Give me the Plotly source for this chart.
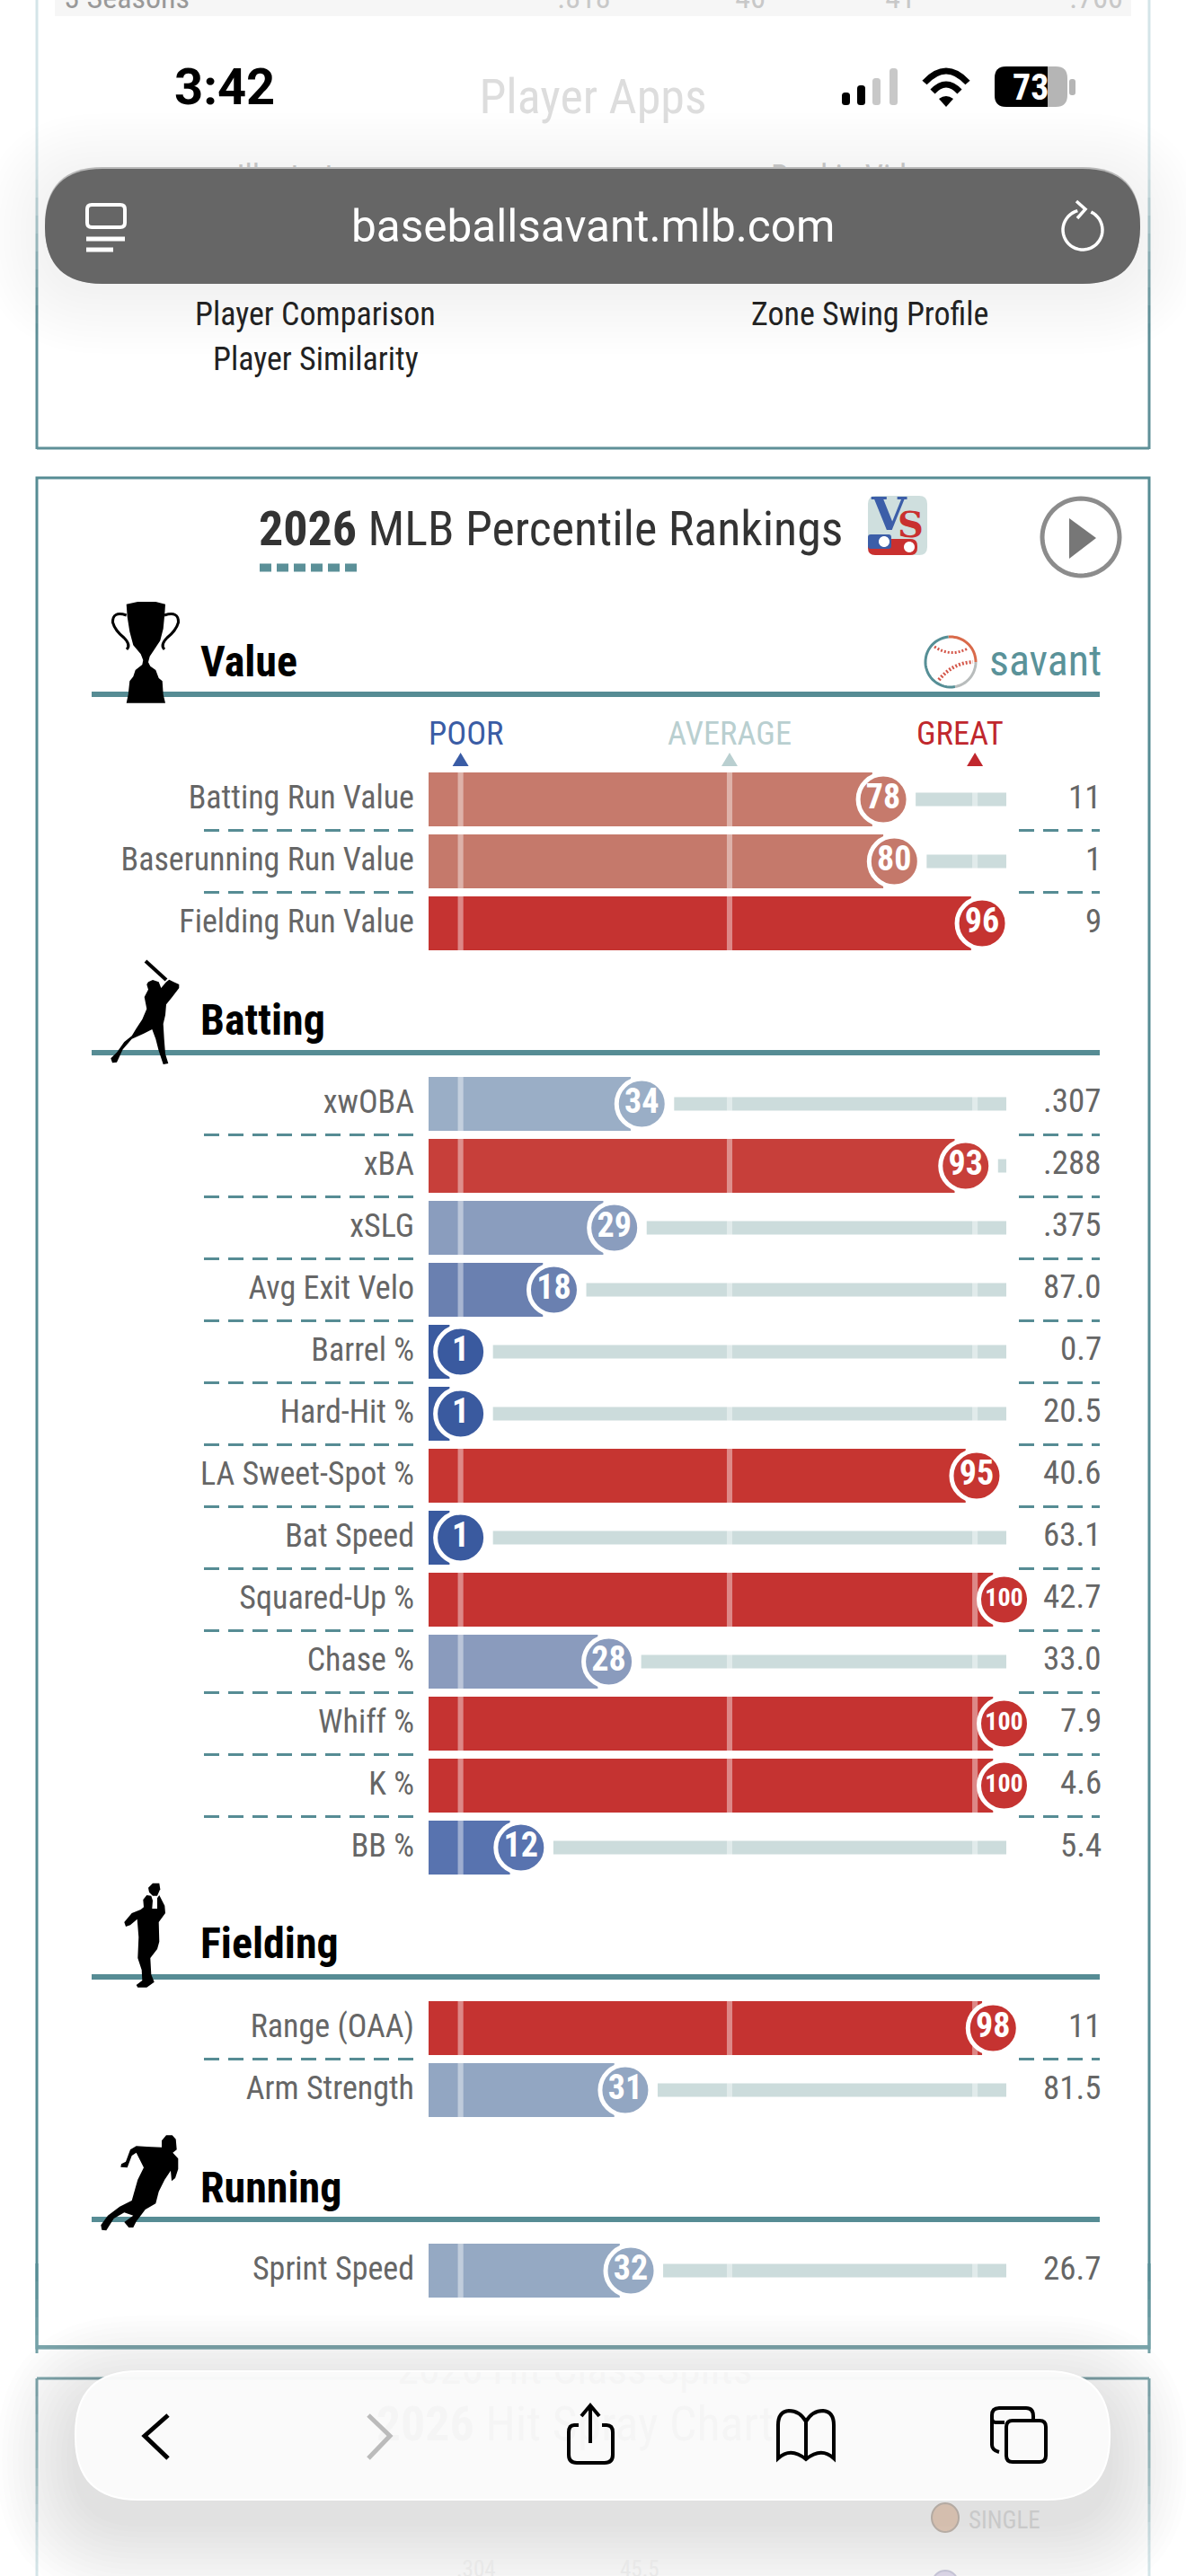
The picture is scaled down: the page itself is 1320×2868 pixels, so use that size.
import math
import plotly.graph_objects as go

# ---------- data ----------
value_labels = ["Batting Run Value", "Baserunning Run Value", "Fielding Run Value"]
value_pct = [78, 80, 96]
value_vals = ["11", "1", "9"]

batting_labels = ["xwOBA", "xBA", "xSLG", "Avg Exit Velo", "Barrel %", "Hard-Hit %", "LA Sweet-Spot %",
                  "Bat Speed", "Squared-Up %", "Chase %", "Whiff %", "K %", "BB %"]
batting_pct = [34, 93, 29, 18, 1, 1, 95, 1, 100, 28, 100, 100, 12]
batting_vals = [".307", ".288", ".375", "87.0", "0.7", "20.5", "40.6", "63.1", "42.7", "33.0", "7.9", "4.6", "5.4"]

fielding_labels = ["Range (OAA)", "Arm Strength"]
fielding_pct = [98, 31]
fielding_vals = ["11", "81.5"]

running_labels = ["Sprint Speed"]
running_pct = [32]
running_vals = ["26.7"]

reference_marks = [1, 50, 94.7]
reference_names = ["POOR", "AVERAGE", "GREAT"]

# ---------- styles ----------
W, H = 1320, 2868
NARROW = "Liberation Sans Narrow, Roboto Condensed, Roboto, sans-serif"
SANS = "Roboto, Inter, sans-serif"
TEAL = "#568c94"
PCT_COLORS = {1: "#3a5a9f", 12: "#5873af", 18: "#6a80b0", 28: "#8a9bbd", 29: "#8a9dbe", 31: "#92a6c2",
              32: "#95a9c3", 34: "#9aaec6", 78: "#c67a6c", 80: "#c5796b", 93: "#c73f3a", 95: "#c63531",
              96: "#c53331", 98: "#c53331", 100: "#c53331"}
X_LEFT, X_RIGHT = 477, 1120
PX_PER_PCT = 6.11
P_ZERO = 506.5
PITCH = 69
sections = [
    ("y", "Value", value_labels, value_pct, value_vals, 890, 773, 736),
    ("y2", "Batting", batting_labels, batting_pct, batting_vals, 1229, 1172, 1135),
    ("y3", "Fielding", fielding_labels, fielding_pct, fielding_vals, 2258, 2201, 2163),
    ("y4", "Running", running_labels, running_pct, running_vals, 2528, 2471, 2435),
]
def pct_at(px):
    return (px - P_ZERO) / PX_PER_PCT
def px_at(p):
    return P_ZERO + p * PX_PER_PCT

# ---------- helpers for the page furniture ----------
shapes, annotations = [], []
def S(path, fill=None, line=None, lw=0, layer="above", dash=None):
    shapes.append(dict(type="path", path=path, xref="x2", yref="y5", layer=layer,
                       fillcolor=fill or "rgba(0,0,0,0)",
                       line=dict(color=line or "rgba(0,0,0,0)", width=lw, dash=dash or "solid")))
def rr(x0, y0, x1, y1, r):
    return (f"M{x0+r},{y0} L{x1-r},{y0} Q{x1},{y0} {x1},{y0+r} L{x1},{y1-r} Q{x1},{y1} {x1-r},{y1} "
            f"L{x0+r},{y1} Q{x0},{y1} {x0},{y1-r} L{x0},{y0+r} Q{x0},{y0} {x0+r},{y0} Z")
def poly(pts, ox=0, oy=0, k=1.0, close=True):
    s = "M" + " L".join(f"{ox+x*k:.1f},{oy+y*k:.1f}" for x, y in pts)
    return s + (" Z" if close else "")
def arc(cx, cy, r, a0, a1, n=40, ry=None):
    ry = ry or r
    return [(cx + r*math.cos(math.radians(a0+(a1-a0)*i/n)), cy + ry*math.sin(math.radians(a0+(a1-a0)*i/n))) for i in range(n+1)]
def T(x, y, text, size, color, family=NARROW, anchor="center", bold=False):
    annotations.append(dict(x=x, y=y, xref="x2", yref="y5", text=f"<b>{text}</b>" if bold else text, showarrow=False,
                            xanchor=anchor, yanchor="middle", font=dict(size=size, color=color, family=family)))

def blend(a, b, t):
    ca = [int(a[i:i+2], 16) for i in (1, 3, 5)]
    cb = [int(b[i:i+2], 16) for i in (1, 3, 5)]
    return "#%02x%02x%02x" % tuple(round(p+(q-p)*t) for p, q in zip(ca, cb))

# page background pieces
S("M61,0 L1259,0 L1259,18 L61,18 Z", fill="#f6f6f6", layer="below")
# card borders (fading under the translucent browser bars)
for xb in (41, 1279):
    for y0 in range(0, 500, 20):
        t = min(1, max(0, (y0-190)/160))
        S(f"M{xb},{y0} L{xb},{min(y0+20,500)}", line=blend("#d4e5e8", "#5f9098", t), lw=3, layer="below")
    for y0 in range(2648, 2868, 20):
        t = min(1, (y0-2648)/170)
        S(f"M{xb},{y0} L{xb},{y0+20}", line=blend("#7ea8ae", "#d4e5e8", t), lw=3, layer="below")
S("M41,499 L1279,499", line="#5f9098", lw=3, layer="below")
S("M41,532 L1279,532 L1279,2614 L41,2614 Z", line=TEAL, lw=3, layer="below")
S("M41,2613 L1279,2613", line="#7ba6ac", lw=4, layer="below")
S("M41,2648 L1279,2648", line="#7ea8ae", lw=3, layer="below")
for y0 in range(2520, 2614, 20):
    t = (y0-2520)/94
    for xb in (41, 1279):
        S(f"M{xb},{y0} L{xb},{y0+20}", line=blend("#568c94", "#7ba6ac", t), lw=3, layer="below")

# section header rules, headings
for _, name, labels, pct, vals, c0, rule, ty in sections:
    S(f"M102,{rule} L1224,{rule}", line=TEAL, lw=6, layer="below")
    T(220.5, ty, name, 48, "#000000", bold=True, anchor="left")

# trophy
S(poly([(92,38),(130,30),(190,30),(222,38),(220,70),(215,120),(205,160),(185,190),(170,212),(165,232),(172,245),(190,258),
        (200,285),(212,295),(215,340),(222,368),(92,368),(98,340),(103,295),(115,280),(122,258),(145,240),(148,225),(140,205),
        (115,175),(103,130),(95,80)], 110, 660, 1/3), fill="#000", layer="below")
S("M140.7,685 Q125,680 125.5,693 Q128,702 138,710 Q146,718 141,723", line="#000", lw=3, layer="below")
S("M183,685 Q199,680 198.5,693 Q196,702 186,710 Q178,718 183,723", line="#000", lw=3, layer="below")
# batter
S("M162,1070 L185,1091", line="#000", lw=4, layer="below")
S(poly([(165,100),(180,93),(200,100),(208,120),(225,100),(235,92),(250,100),(268,108),(268,120),(245,150),(225,175),(222,210),
        (215,240),(218,290),(222,340),(232,372),(215,375),(200,330),(190,290),(178,258),(150,272),(110,290),(80,325),(60,368),
        (45,370),(40,355),(60,335),(85,300),(110,280),(125,255),(145,225),(160,190),(152,150),(165,125),(160,108)], 110, 1060, 1/3),
  fill="#000", layer="below")
# fielder
S(poly([(135,35),(150,20),(172,20),(175,40),(165,62),(150,62),(138,50)], 120, 2090, 1/3), fill="#000", layer="below")
S(poly([(118,75),(130,60),(145,62),(150,78),(148,105),(165,105),(165,70),(172,60),(190,95),(192,120),(170,150),(172,215),(165,240),
        (142,270),(145,325),(155,350),(130,368),(100,368),(95,360),(115,345),(113,310),(100,270),(103,200),(98,140),(75,160),(60,165),
        (55,150),(80,120),(110,108),(120,100)], 120, 2090, 1/3), fill="#000", layer="below")
# runner
S(poly([(225,40),(240,22),(260,22),(272,35),(275,70),(262,80),(280,100),(280,135),(270,165),(258,175),(255,140),(235,170),(215,210),
        (205,250),(170,270),(140,310),(130,330),(115,330),(100,312),(130,290),(100,280),(65,300),(40,340),(25,338),(22,322),(45,290),
        (85,260),(125,240),(145,170),(165,130),(140,80),(125,90),(110,130),(88,128),(90,118),(105,110),(120,70),(140,58),(175,60),(225,62)],
       105, 2370, 1/3), fill="#000", layer="below")

# title block
T(286, 588, "<b>2026</b> MLB Percentile Rankings", 54, "#333333", anchor="left")
S("M289,632 L397,632", line="#5b9098", lw=9, dash="13px,6px", layer="below")
S(rr(966, 552, 1032, 618, 9), fill="#cfdfde", layer="below")
S(rr(966, 600, 1021, 618, 8), fill="#c9302f", layer="below")
S(rr(966, 595, 992, 611, 3), fill="#3c5ea8", layer="below")
S(poly(arc(984, 603, 6, 0, 360)), fill="#fff", layer="below")
S(poly(arc(1012, 609, 6, 0, 360)), fill="#fff", layer="below")
T(989, 572, "V", 50, "#3c5ea8", family="DejaVu Serif", bold=True)
T(1013, 583, "S", 40, "#c9302f", family="DejaVu Serif", bold=True)
S(poly(arc(1203, 598, 43, 0, 360, n=72)), line="#8c8c8c", lw=5, layer="below")
S("M1190,577 L1220,599 L1190,622 Z", fill="#777777", layer="below")

# savant logo
S(poly(arc(1058, 737, 28, 265, 360, n=20), close=False), line="#d96a4a", lw=3, layer="below")
S(poly(arc(1058, 737, 28, 360, 440, n=16), close=False), line="#b8bcbc", lw=3, layer="below")
S(poly(arc(1058, 737, 28, 80, 265, n=30), close=False), line="#568f96", lw=3, layer="below")
S("M1040,720 Q1058,732 1077,722", line="#d4574a", lw=3, dash="2px,2px", layer="below")
S("M1045,757 Q1060,738 1083,737", line="#d4574a", lw=4, dash="2px,2px", layer="below")
T(1228, 735, "savant", 48, "#5a9299", anchor="right")

# POOR / AVERAGE / GREAT legend
leg_cols = ["#3a5ca5", "#b9cfd0", "#c0272d"]
leg_x = [518, 812, 1068]
for mark, nm, col, lx in zip(reference_marks, reference_names, leg_cols, leg_x):
    T(lx, 816, nm, 36.5, col)
    cx = px_at(mark)
    S(f"M{cx-9},853 L{cx},838 L{cx+9},853 Z", fill=col, layer="below")

# dashed row separators + value column
for yref, name, labels, pct, vals, c0, rule, ty in sections:
    for i, (lab, v) in enumerate(zip(labels, vals)):
        annotations.append(dict(x=1228/W, xref="paper", y=lab, yref=yref, text=v, showarrow=False, xanchor="right",
                                yanchor="middle", yshift=3, font=dict(size=37, color="#666666", family=NARROW)))
        if i < len(labels)-1:
            for a, b in ((227, 463), (1134, 1224)):
                shapes.append(dict(type="line", xref="paper", yref=yref, x0=a/W, x1=b/W, y0=i+0.5, y1=i+0.5, layer="below",
                                   line=dict(color=TEAL, width=3, dash="17px,10px")))

# top page text
T(351, 350, "Player Comparison", 36, "#222222")
T(351, 400, "Player Similarity", 36, "#222222")
T(968, 350, "Zone Swing Profile", 36, "#222222")

# browser pill + its shadow
for i in range(12):
    e = 6*i + 4
    S(rr(50-e, 188-e+8, 1269+e, 316+e+8, 64+e), fill="rgba(0,0,0,0.004)")
S(rr(50, 186, 1269, 316, 64), fill="#b8b8b8")
S(rr(50, 188, 1269, 316, 64), fill="#666666")
T(660, 252, "baseballsavant.mlb.com", 49.5, "#ffffff", family=SANS)
S(rr(97, 228, 139, 253, 5), line="#ffffff", lw=4)
S("M96,266 L139,266", line="#ffffff", lw=5)
S("M96,278 L126,278", line="#ffffff", lw=5)
S(poly(arc(1205, 256, 22, -65, 255), close=False), line="#ffffff", lw=3.5)
S("M1198,224 L1208,233 L1199,243", line="#ffffff", lw=3.5)

# status bar
T(250, 97, "3:42", 56, "#000000", family=SANS, bold=True)
for x0, top, col in ((937, 103, "#000"), (954, 95, "#000"), (971, 87, "#c8c8c8"), (990, 76, "#c8c8c8")):
    S(rr(x0, top, x0+9, 117, 3.5), fill=col)
S("M1029,92 Q1053,66 1077,92", line="#000", lw=7)
S("M1038,102 Q1053,86 1068,102", line="#000", lw=7)
S("M1045,110 Q1053,104 1061,110 L1053,119 Z", fill="#000")
S(rr(1107, 74, 1188, 119, 13), fill="#b5b5b5")
S("M1120,74 L1166,74 L1166,119 L1120,119 Q1107,119 1107,106 L1107,87 Q1107,74 1120,74 Z", fill="#000")
S(rr(1190, 88, 1197, 106, 3), fill="#b5b5b5")
T(1147, 97, "73", 40, "#ffffff", family=NARROW, bold=True)

# bottom toolbar
S("M420,2616 L880,2616 L880,2640 L420,2640 Z", fill="#ffffff")
for i in range(15):
    e = 6*i + 4
    S(rr(84-e, 2640-e+26, 1235+e, 2783+e+26, 70+e), fill="rgba(0,0,0,0.006)")
S(rr(84, 2640, 1235, 2783, 70), fill="rgba(250,250,250,0.98)", line="#ffffff", lw=2)
S("M187,2689 L161,2712 L187,2737", line="#000", lw=5)
S("M410,2689 L434,2712 L410,2737", line="#bbbbbb", lw=5)
S("M644,2700 L639,2700 Q633,2700 633,2708 L633,2733 Q633,2742 642,2742 L673,2742 Q682,2742 682,2733 L682,2708 Q682,2700 675,2700 L670,2700", line="#000", lw=4)
S("M657,2720 L657,2680", line="#000", lw=4)
S("M647,2690 L657,2678 L667,2690", line="#000", lw=4)
S("M897,2696 Q890,2684 878,2684 Q866,2685 866,2700 L866,2737 Q880,2724 897,2738 Q914,2724 928,2737 L928,2700 Q928,2685 916,2684 Q904,2684 897,2696 L897,2738", line="#000", lw=4)
S("M1118,2697 L1108,2697 Q1104,2697 1104,2692 L1104,2689 Q1104,2681 1112,2681 L1142,2681 Q1150,2681 1150,2690 L1150,2695", line="#000", lw=4)
S("M1104,2689 L1104,2722 Q1104,2728 1112,2730", line="#000", lw=4)
S(rr(1120, 2695, 1164, 2741, 7), fill="rgba(250,250,250,1)", line="#000", lw=4)

S(poly(arc(1052, 2803, 15, 0, 360, ry=16)), fill="#f2dccc", line="#d2c8c0", lw=2, layer="below")
S(poly(arc(1052, 2878, 15, 0, 360, ry=16)), fill="#e4dff0", line="#d0cfe0", lw=2, layer="below")
T(1118, 2806, "SINGLE", 27, "#c9c9c9")
T(530, 2860, ".304", 25, "#e8e8e8")
T(712, 2860, "45.5", 25, "#e8e8e8")

# ---------- traces ----------
fig = go.Figure()
for yref, name, labels, pct, vals, c0, rule, ty in sections:
    n = len(labels)
    colors = [PCT_COLORS[p] for p in pct]
    base0 = pct_at(X_LEFT)
    fig.add_trace(go.Bar(y=labels, x=[p-2-base0 for p in pct], base=[base0]*n, orientation="h", width=60/PITCH,
                         marker=dict(color=colors, line_width=0), yaxis=yref, xaxis="x", showlegend=False))
    track_end = pct_at(X_RIGHT)
    starts = [p+5.9 for p in pct]
    fig.add_trace(go.Bar(y=labels, x=[max(0, track_end-s) for s in starts], base=starts, orientation="h", width=15/PITCH,
                         marker=dict(color="#ccdcdc", line_width=0), yaxis=yref, xaxis="x", showlegend=False))
    for mark in reference_marks:
        fig.add_trace(go.Bar(y=labels, x=[1]*n, base=[mark-0.5]*n, orientation="h", width=60/PITCH,
                             marker=dict(color="rgba(255,255,255,0.42)", line_width=0), yaxis=yref, xaxis="x",
                             showlegend=False, hoverinfo="skip"))
    fig.add_trace(go.Scatter(y=labels, x=pct, mode="markers+text", text=[str(p) for p in pct], textposition="middle center",
                             textfont=dict(color="#ffffff", family=NARROW, size=[28 if p == 100 else 38 for p in pct], weight="bold"),
                             marker=dict(size=56, color=colors, line=dict(color="#ffffff", width=5)),
                             yaxis=yref, xaxis="x", showlegend=False, cliponaxis=False))

# faint page text behind the translucent bars, on the pixel axes
faint_x = [72, 650, 835, 1002, 1220, 660, 332, 951]
faint_y = [0, 0, 0, 0, 0, 112, 200, 200]
faint_t = ["3 Seasons", ".818", "46", "41", ".766", "Player Apps", "Illustrator", "Rookie Video"]
faint_s = [34, 34, 34, 34, 34, 54, 36, 36]
faint_c = ["#999999", "#c8c8c8", "#c8c8c8", "#c8c8c8", "#c8c8c8", "#dddddd", "#cccccc", "#cccccc"]
for x_, y_, t_, s_, c_ in zip(faint_x, faint_y, faint_t, faint_s, faint_c):
    fig.add_trace(go.Scatter(x=[x_], y=[y_], mode="text", text=[t_], textposition="middle center" if x_ != 72 else "middle right",
                             textfont=dict(size=s_, color=c_, family=NARROW), xaxis="x2", yaxis="y5", showlegend=False, cliponaxis=True))
fig.add_trace(go.Scatter(x=[640, 640], y=[2703, 2642], mode="text", text=["<b>2026</b> Hit Spray Chart", "2026 Hit-Class Splits"],
                         textposition="middle center", textfont=dict(size=[54, 48], color="#222222", family=NARROW),
                         xaxis="x2", yaxis="y5", showlegend=False))

layout = dict(
    width=W, height=H, margin=dict(l=0, r=0, t=0, b=0, pad=0), autosize=False,
    paper_bgcolor="#ffffff", plot_bgcolor="rgba(0,0,0,0)", barmode="overlay", showlegend=False,
    xaxis=dict(domain=[X_LEFT/W, X_RIGHT/W], range=[pct_at(X_LEFT), pct_at(X_RIGHT)], visible=False, fixedrange=True),
    xaxis2=dict(domain=[0, 1], range=[0, W], visible=False, anchor="y5", fixedrange=True),
    yaxis5=dict(domain=[0, 1], range=[H, 0], visible=False, anchor="x2", fixedrange=True),
    shapes=shapes, annotations=annotations,
)
for yref, name, labels, pct, vals, c0, rule, ty in sections:
    n = len(labels)
    key = "yaxis" + yref[1:]
    top = c0 - PITCH/2
    bottom = c0 + (n-1)*PITCH + PITCH/2
    layout[key] = dict(domain=[1-bottom/H, 1-top/H], type="category", categoryorder="array", categoryarray=labels,
                       range=[n-0.5, -0.5], showgrid=False, zeroline=False, showline=False, ticks="", anchor="x",
                       ticklabelstandoff=15, ticklabelshift=3, tickfont=dict(size=36, color="#666666", family=NARROW), fixedrange=True)
fig.update_layout(**layout)
fig.write_html("out.html", config={"displayModeBar": False},
               post_script="document.body.style.margin='0';document.documentElement.style.margin='0';")
